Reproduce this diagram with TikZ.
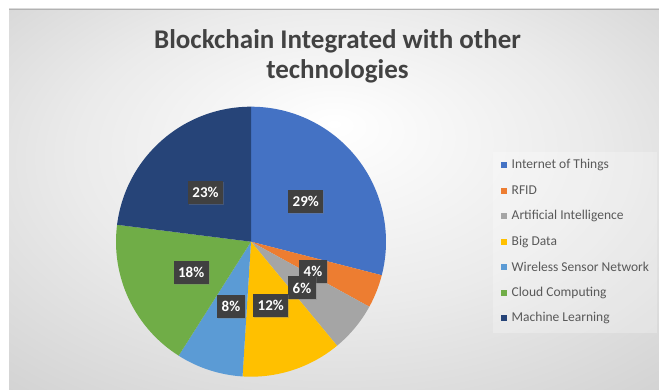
\documentclass[tikz,border=0pt]{standalone}
\usepackage{fontspec}
\setmainfont{Carlito}
\usepackage{xcolor}
\usepackage{tikz}
\usetikzlibrary{shadows}

\definecolor{iotblue}{HTML}{4472C4}
\definecolor{rfidorange}{HTML}{ED7D31}
\definecolor{aigray}{HTML}{A5A5A5}
\definecolor{bigyellow}{HTML}{FFC000}
\definecolor{wsnblue}{HTML}{5B9BD5}
\definecolor{cloudgreen}{HTML}{70AD47}
\definecolor{mlblue}{HTML}{264478}
\definecolor{labelgray}{HTML}{404040}
\definecolor{keygray}{HTML}{595959}
\definecolor{titlegray}{HTML}{424242}
\pgfdeclareradialshading{chartbg}{\pgfpoint{0bp}{10bp}}{color(0bp)=(white); color(20bp)=(white!92!black); color(50bp)=(white!76!black)}

\begin{document}
\begin{tikzpicture}[x=1pt,y=1pt,
	pct/.style={fill=labelgray,text=white,font=\fontsize{15}{15}\selectfont\bfseries,
		inner xsep=4.5pt,inner ysep=0pt,minimum height=23pt,
		drop shadow={opacity=0.35,shadow xshift=1pt,shadow yshift=-1pt}},
	key/.style={fill=#1,minimum size=6pt,inner sep=0pt},
	keytext/.style={anchor=west,inner sep=0pt,text=keygray,font=\fontsize{13.5}{13.5}\selectfont}]
		\useasboundingbox (0,0) rectangle (659,390);
		\fill[white] (0,0) rectangle (659,390);
		\shade[shading=chartbg] (9,0) rectangle (659,381);
		\draw[white!70!black,line width=0.6pt] (9,381) -- (659,381);
		%
		\node[anchor=base,text=titlegray,font=\fontsize{27}{27}\selectfont\bfseries] (title) at (337.5,341.7) {Blockchain Integrated with other};
		\node[anchor=base,text=titlegray,font=\fontsize{27}{27}\selectfont\bfseries] (title2) at (337.5,311.7) {technologies};
		%
		\coordinate (c) at (251,148.3);
		\fill[iotblue] (c) -- ++(90:135) arc[start angle=90,end angle=-14.4,radius=135] -- cycle;
		\fill[rfidorange] (c) -- ++(-14.4:135) arc[start angle=-14.4,end angle=-28.8,radius=135] -- cycle;
		\fill[aigray] (c) -- ++(-28.8:135) arc[start angle=-28.8,end angle=-50.4,radius=135] -- cycle;
		\fill[bigyellow] (c) -- ++(-50.4:135) arc[start angle=-50.4,end angle=-93.6,radius=135] -- cycle;
		\fill[wsnblue] (c) -- ++(-93.6:135) arc[start angle=-93.6,end angle=-122.4,radius=135] -- cycle;
		\fill[cloudgreen] (c) -- ++(-122.4:135) arc[start angle=-122.4,end angle=-187.2,radius=135] -- cycle;
		\fill[mlblue] (c) -- ++(-187.2:135) arc[start angle=-187.2,end angle=-270,radius=135] -- cycle;
		%
		\node[pct] (p29) at (305.8,188.3) {29\%};
		\node[pct] (p4) at (313,118.5) {4\%};
		\node[pct] (p6) at (302,102) {6\%};
		\node[pct] (p12) at (270.8,84.5) {12\%};
		\node[pct] (p8) at (231,83.3) {8\%};
		\node[pct] (p18) at (191.2,117.3) {18\%};
		\node[pct] (p23) at (205.5,197.3) {23\%};
		%
		\fill[white,opacity=0.25] (493.3,56.7) rectangle (656.7,238.3);
		\node[key=iotblue] (k1) at (503.7,225) {};
		\node[key=rfidorange] (k2) at (503.7,199.4) {};
		\node[key=aigray] (k3) at (503.7,173.9) {};
		\node[key=bigyellow] (k4) at (503.7,148.3) {};
		\node[key=wsnblue] (k5) at (503.7,122.8) {};
		\node[key=cloudgreen] (k6) at (503.7,97.2) {};
		\node[key=mlblue] (k7) at (503.7,71.7) {};
		\node[keytext] (t1) at (511.5,225) {Internet of Things};
		\node[keytext] (t2) at (511.5,199.4) {RFID};
		\node[keytext] (t3) at (511.5,173.9) {Artificial Intelligence};
		\node[keytext] (t4) at (511.5,148.3) {Big Data};
		\node[keytext] (t5) at (511.5,122.8) {Wireless Sensor Network};
		\node[keytext] (t6) at (511.5,97.2) {Cloud Computing};
		\node[keytext] (t7) at (511.5,71.7) {Machine Learning};
\end{tikzpicture}
\end{document}
